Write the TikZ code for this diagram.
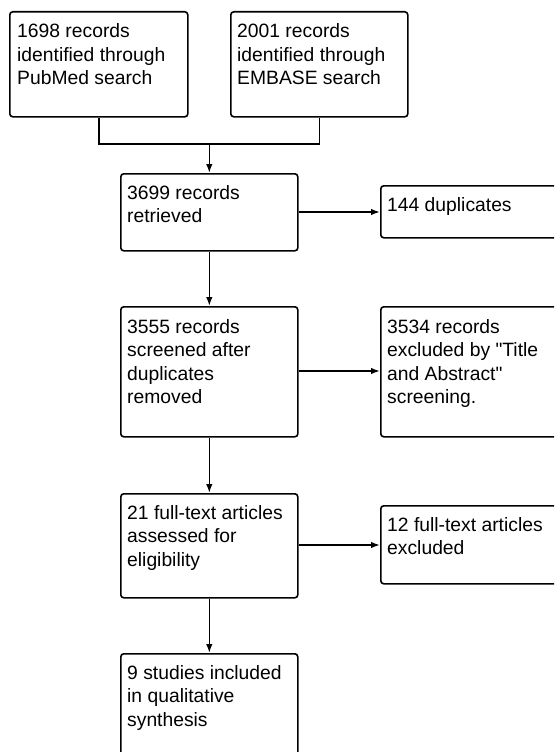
\documentclass[tikz,border=0pt]{standalone}
\usepackage{fontspec}
\setmainfont{Liberation Sans}[Ligatures=TeXOff]
\usetikzlibrary{arrows.meta,calc}
\newcommand{\lines}[1]{\begin{tabular}[t]{@{}l@{}}#1\end{tabular}}
\begin{document}
\begin{tikzpicture}[x=1pt,y=-1pt,
  box/.style={draw=black,line width=1.6pt,rounded corners=3pt,inner sep=0pt,anchor=north west},
  txt/.style={anchor=base west,inner sep=0pt,
    font=\fontsize{19.3}{23.5}\selectfont},
  link/.style={line width=1.6pt},
  arr/.style={line width=1.6pt,-{Latex[length=9pt,width=6.5pt]}}]
\clip (0,0) rectangle (554,752);
% flow boxes (left column and side boxes)
\node[box,minimum width=178pt,minimum height=105pt] (a) at (9,11) {};
\node[box,minimum width=177pt,minimum height=105pt] (b) at (230,11) {};
\node[box,minimum width=177pt,minimum height=77pt]  (c) at (120,173) {};
\node[box,minimum width=185pt,minimum height=52pt]  (d) at (380,185) {};
\node[box,minimum width=177pt,minimum height=130pt] (e) at (120,306) {};
\node[box,minimum width=185pt,minimum height=130pt] (f) at (380,306) {};
\node[box,minimum width=177pt,minimum height=104pt] (g) at (120,493) {};
\node[box,minimum width=185pt,minimum height=78pt]  (h) at (380,505) {};
\node[box,minimum width=177pt,minimum height=120pt] (i) at (120,653) {};
% box texts, first baseline set below each box top
\node[txt] at ($(a.north west)+(8,27)$) {\lines{1698 records\\identified through\\PubMed search}};
\node[txt] at ($(b.north west)+(7,27)$) {\lines{2001 records\\identified through\\EMBASE search}};
\node[txt] at ($(c.north west)+(7,26)$) {\lines{3699 records\\retrieved}};
\node[txt] at ($(d.north west)+(7,26)$) {\lines{144 duplicates}};
\node[txt] at ($(e.north west)+(7,27)$) {\lines{3555 records\\screened after\\duplicates\\removed}};
\node[txt] at ($(f.north west)+(7,27)$) {\lines{3534 records\\excluded by "Title\\and Abstract"\\screening.}};
\node[txt] at ($(g.north west)+(7,26)$) {\lines{21 full-text articles\\assessed for\\eligibility}};
\node[txt] at ($(h.north west)+(7,26)$) {\lines{12 full-text articles\\excluded}};
\node[txt] at ($(i.north west)+(7,26)$) {\lines{9 studies included\\in qualitative\\synthesis}};
% connectors
\coordinate (j) at ($(c.north)+(0,-29)$);
\draw[link] (a.south) |- (j) -| (b.south);
\draw[arr] (j) -- (c.north);
\draw[arr] (c.east |- 0,212) -- (d.west |- 0,212);
\draw[arr] (c.south) -- (e.north);
\draw[arr] (e.east |- 0,371) -- (f.west |- 0,371);
\draw[arr] (e.south) -- (g.north);
\draw[arr] (g.east |- 0,545) -- (h.west |- 0,545);
\draw[arr] (g.south) -- (i.north);
\end{tikzpicture}
\end{document}
